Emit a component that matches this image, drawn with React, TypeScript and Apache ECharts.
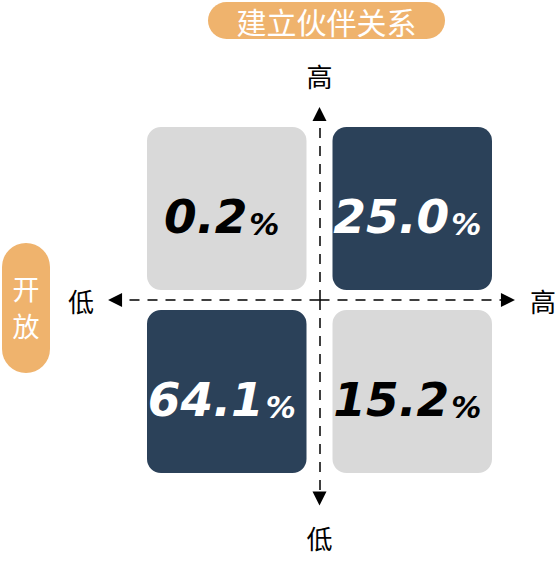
import * as echarts from 'echarts'
import React, { useEffect, useRef } from 'react'

// axis levels, low -> high
const levels = ['低', '高']
const xTitle = '开放'
const yTitle = '建立伙伴关系'

// the four quadrants: index into levels for each axis, share in %
const opennessIdx = [0, 1, 0, 1]
const partnershipIdx = [1, 1, 0, 0]
const shares = [0.2, 25.0, 64.1, 15.2]
const highlighted = [false, true, true, false]

const navy = '#2B4159'
const grey = '#D9D9D9'
const orange = '#EFB36D'
const cjk = '"Noto Sans CJK SC", sans-serif'

// where the dashed cross ends, in axis units (centre is 0.5)
const crossLeft = -0.602
const crossRight = 1.516
const crossTop = 1.516
const crossBottom = -0.585

export default function App() {
  const chartRef = useRef<HTMLDivElement>(null)

  useEffect(() => {
    const chart = echarts.init(chartRef.current, null, { renderer: 'svg' })

    const data = shares.map((v, i) => [
      opennessIdx[i],
      partnershipIdx[i],
      v,
      highlighted[i] ? 1 : 0,
    ])

    const axisLabel = (text: string, distance: number) => ({
      show: true,
      position: 'end',
      formatter: text,
      distance,
      color: '#000',
      fontSize: 26,
      fontFamily: cjk,
    })

    const option = {
      animation: false,
      grid: { left: 96.9, right: 16.9, top: 80.4, bottom: 41.4 },
      xAxis: { type: 'value', min: -0.7, max: 1.7, show: false },
      yAxis: { type: 'value', min: -0.7, max: 1.7, show: false },
      graphic: [
        {
          type: 'group',
          children: [
            {
              type: 'rect',
              shape: { x: 208, y: 2, width: 237, height: 37, r: 18.5 },
              style: { fill: orange },
            },
            {
              type: 'text',
              x: 326.5,
              y: 21,
              style: {
                text: yTitle,
                fill: '#fff',
                fontSize: 30,
                fontFamily: cjk,
                align: 'center',
                verticalAlign: 'middle',
              },
            },
          ],
        },
        {
          type: 'group',
          children: [
            {
              type: 'rect',
              shape: { x: 2, y: 243, width: 48, height: 130, r: 24 },
              style: { fill: orange },
            },
            {
              type: 'text',
              x: 26,
              y: 307,
              style: {
                text: xTitle.split('').join('\n'),
                fill: '#fff',
                fontSize: 27,
                lineHeight: 37,
                fontFamily: cjk,
                align: 'center',
                verticalAlign: 'middle',
              },
            },
          ],
        },
      ],
      series: [
        {
          type: 'custom',
          data,
          renderItem: (params: any, api: any) => {
            const c = api.coord([api.value(0), api.value(1)])
            const s = api.size([1, 1])
            const w = s[0] - 26
            const h = s[1] - 20
            const dark = api.value(3) === 1
            const fg = dark ? '#fff' : '#000'
            const font = {
              fontFamily: '"DejaVu Sans", sans-serif',
              fontWeight: 'bold',
              fontStyle: 'italic',
              fill: fg,
            }
            return {
              type: 'group',
              children: [
                {
                  type: 'rect',
                  shape: { x: c[0] - w / 2, y: c[1] - h / 2, width: w, height: h, r: 14 },
                  style: { fill: dark ? navy : grey },
                },
                {
                  type: 'text',
                  x: c[0] - 5,
                  y: c[1] + 5,
                  style: {
                    text: `{n|${Number(api.value(2)).toFixed(1)}}{p|%}`,
                    align: 'center',
                    verticalAlign: 'middle',
                    rich: {
                      n: { ...font, fontSize: 47, lineHeight: 52, verticalAlign: 'bottom' },
                      p: { ...font, fontSize: 30, lineHeight: 52, verticalAlign: 'bottom', padding: [0, 0, 0, 2] },
                    },
                  },
                },
              ],
            }
          },
        },
        {
          type: 'line',
          data: [],
          silent: true,
          markLine: {
            silent: true,
            animation: false,
            symbol: ['none', 'triangle'],
            symbolSize: [14, 14],
            lineStyle: { color: '#000', width: 1.5, type: [10, 8] },
            label: { show: true },
            data: [
              [
                { coord: [0.5, 0.5], label: axisLabel(levels[0], 21) },
                { coord: [crossLeft, 0.5] },
              ],
              [
                { coord: [0.5, 0.5], label: axisLabel(levels[1], 22) },
                { coord: [crossRight, 0.5] },
              ],
              [
                { coord: [0.5, 0.5], label: axisLabel(levels[1], 26) },
                { coord: [0.5, crossTop] },
              ],
              [
                { coord: [0.5, 0.5], label: axisLabel(levels[0], 26) },
                { coord: [0.5, crossBottom] },
              ],
            ],
          },
        },
      ],
    }

    chart.setOption(option as any)

    return () => {
      chart.dispose()
    }
  }, [])

  return (
    <div
      ref={chartRef}
      style={{ position: 'absolute', left: 0, top: 0, width: 559, height: 561 }}
    />
  )
}
